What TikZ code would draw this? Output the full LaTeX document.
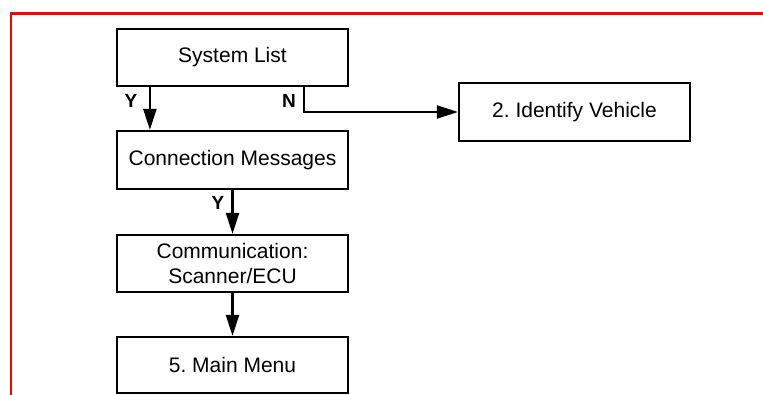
\documentclass[tikz,border=0pt]{standalone}
\usepackage{fontspec}
\setmainfont{Liberation Sans}
\usetikzlibrary{arrows.meta}
\frenchspacing
\begin{document}
\begin{tikzpicture}[x=1pt,y=-1pt,
  box/.style={draw=black, line width=2.2pt, minimum width=231pt, minimum height=57pt, inner sep=0pt, align=center, font=\fontsize{21}{25}\selectfont},
  arr/.style={line width=2.2pt, -{Triangle[length=21pt,width=13pt]}},
  lbl/.style={font=\fontsize{19}{22}\selectfont\bfseries, inner sep=0pt}]
\useasboundingbox (0,0) rectangle (763,395);
\draw[red, line width=2.7pt] (11,396) -- (11,13.3) -- (764,13.3);
\node[box] (sys) at (232.5,57.5) {System List};
\node[box, minimum height=58pt] (conn) at (232.5,160) {Connection Messages};
\node[box] (comm) at (232.5,263.5) {Communication:\\Scanner/ECU};
\node[box, minimum height=56pt] (main) at (232.5,365) {5. Main Menu};
\node[box, minimum height=58pt] (veh) at (574.5,112) {2. Identify Vehicle};
\draw[arr] ([xshift=34pt]sys.south west) -- ([xshift=34pt]conn.north west);
\draw[arr] ([xshift=188pt]sys.south west) |- (veh.west);
\draw[arr] (conn.south) -- (comm.north);
\draw[arr] (comm.south) -- (main.north);
\node[lbl] (y1) at (131,101) {Y};
\node[lbl] (n1) at (289,101) {N};
\node[lbl] (y2) at (218,203) {Y};
\end{tikzpicture}
\end{document}
